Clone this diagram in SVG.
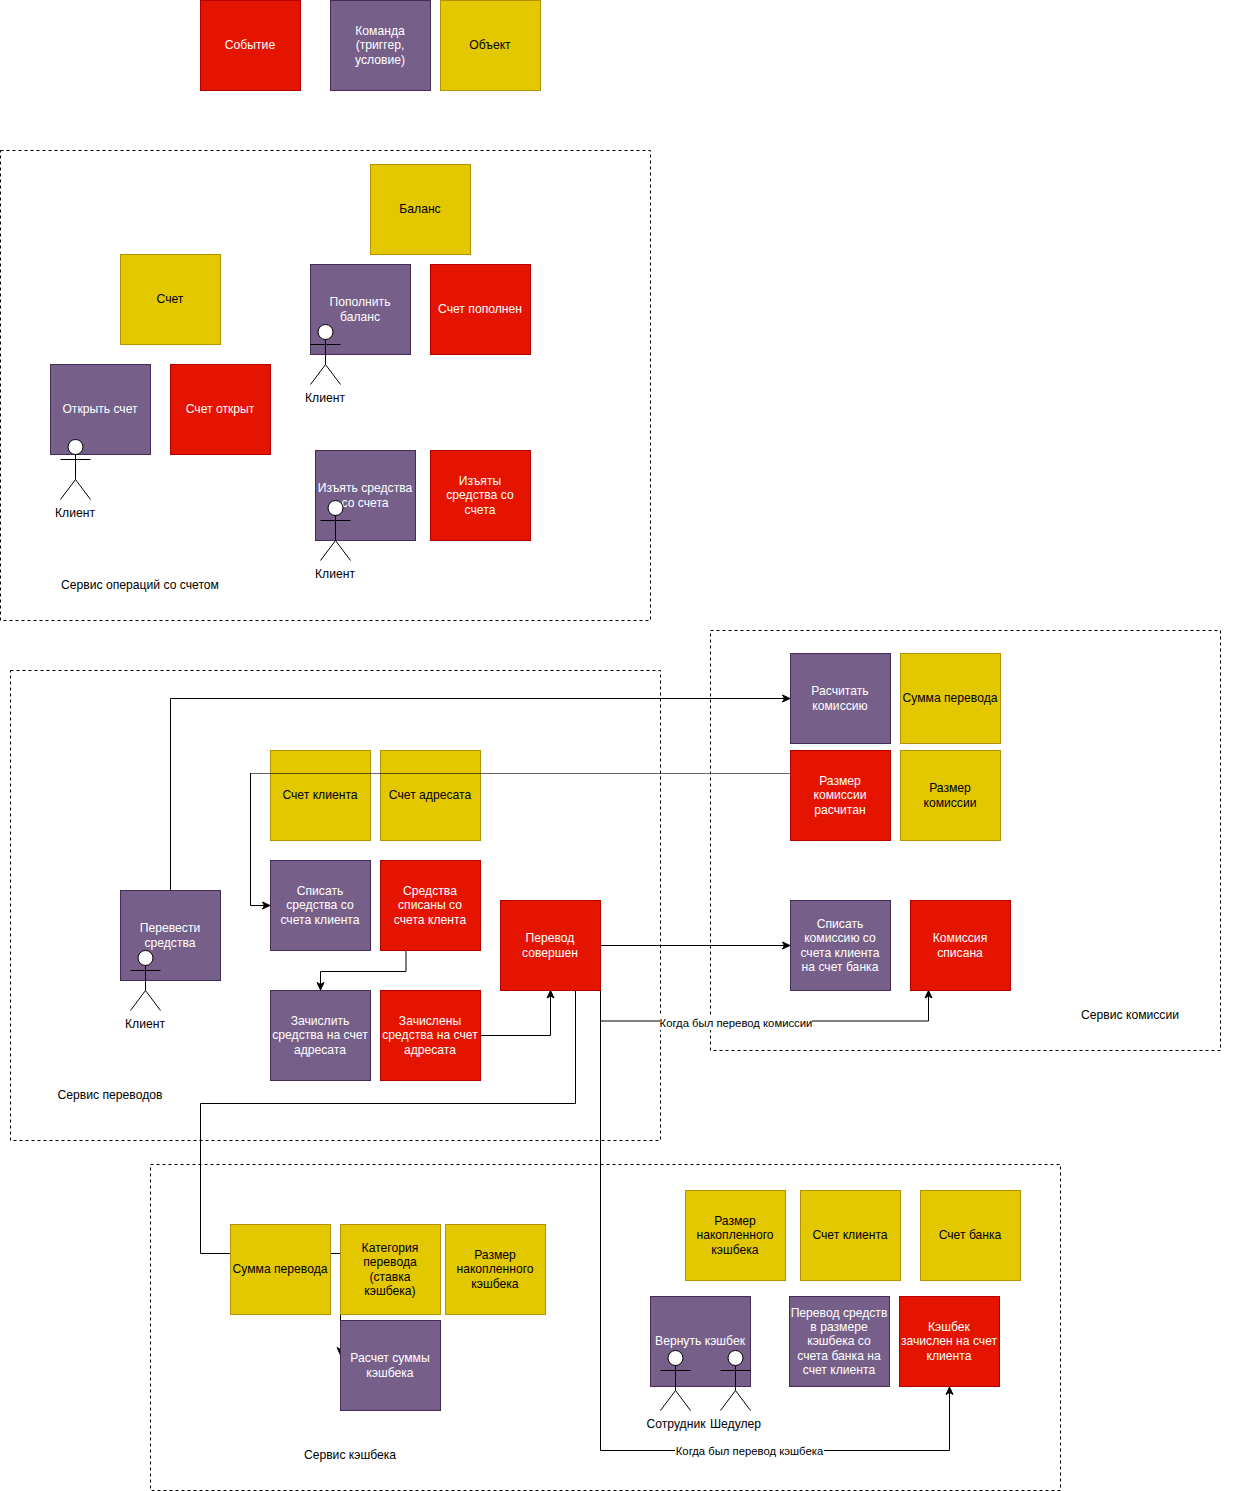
<svg xmlns="http://www.w3.org/2000/svg" width="1241" height="1491" viewBox="0 0 1241 1491">
<style>
text{font-family:"Liberation Sans",Arial,sans-serif;font-size:12.15px;text-anchor:middle;fill:#000;stroke:none}
.ev{fill:#e51400;stroke:#b20000}
.cmd{fill:#76608a;stroke:#432d57}
.obj{fill:#e3c800;stroke:#b09500}
.ev text,.cmd text{fill:#fff}
.frame{fill:none;stroke:#000;stroke-dasharray:3 3}
.c{fill:none;stroke:#000}
.a{marker-end:url(#arrow)}
.actor{fill:#fff;stroke:#000}
.edge{font-size:11.3px}
</style>
<defs>
<marker id="arrow" markerUnits="userSpaceOnUse" markerWidth="10" markerHeight="10" viewBox="-8 -5 10 10" refX="0" refY="0" orient="auto"><path d="M-7.5 -3.5L0 0L-7.5 3.5L-5.5 0Z" fill="#000" stroke="#000"/></marker>
<rect id="b" width="100" height="90"/>
<g id="fig"><circle cx="15" cy="7.5" r="7.5"/><path fill="none" d="M15 15V40M0 20H30M0 60L15 40L30 60"/></g>
</defs>
<rect width="1241" height="1491" fill="#fff"/>

<g id="frames">
<rect class="frame" x="0.5" y="150.5" width="650" height="470"/>
<rect class="frame" x="10.5" y="670.5" width="650" height="470"/>
<rect class="frame" x="710.5" y="630.5" width="510" height="420"/>
<rect class="frame" x="150.5" y="1164.5" width="910" height="326"/>
</g>

<g id="n-schet-klienta" class="obj"><use href="#b" x="270.5" y="750.5"/><text x="320" y="799">Счет клиента</text></g>
<g id="n-schet-adresata" class="obj"><use href="#b" x="380.5" y="750.5"/><text x="430" y="799">Счет адресата</text></g>

<g id="connectors">
<path class="c a" d="M170.5 890V698.5H790"/>
<path class="c" d="M790 773.5H250.5" stroke-opacity="0.6"/>
<path class="c a" d="M250.5 773V905.5H270"/>
<path class="c a" d="M406 950V971.5H320.5V990"/>
<path class="c a" d="M480 1035.5H550.5V990.5"/>
<path class="c a" d="M600 945.5H790"/>
<path class="c a" d="M600.5 1021H928.5V990.5"/>
<path class="c a" d="M575.5 990V1103.5H200.5V1253.5H340.5V1355"/>
<path class="c a" d="M600.5 990V1450.5H949.5V1387"/>
<rect x="660" y="1016" width="152" height="14" fill="#fff"/>
<text class="edge" x="736" y="1027">Когда был перевод комиссии</text>
<rect x="675" y="1444" width="149" height="14" fill="#fff"/>
<text class="edge" x="749.5" y="1455">Когда был перевод кэшбека</text>
</g>

<g id="n-sobytie" class="ev"><use href="#b" x="200.5" y="0.5"/><text x="250" y="49">Событие</text></g>
<g id="n-komanda" class="cmd"><use href="#b" x="330.5" y="0.5"/><text x="380" y="35">Команда</text><text x="380" y="49">(триггер,</text><text x="380" y="64">условие)</text></g>
<g id="n-obekt" class="obj"><use href="#b" x="440.5" y="0.5"/><text x="490" y="49">Объект</text></g>

<g id="n-balans" class="obj"><use href="#b" x="370.5" y="164.5"/><text x="420" y="213">Баланс</text></g>
<g id="n-schet" class="obj"><use href="#b" x="120.5" y="254.5"/><text x="170" y="303">Счет</text></g>
<g id="n-popolnit" class="cmd"><use href="#b" x="310.5" y="264.5"/><text x="360" y="306">Пополнить</text><text x="360" y="321">баланс</text></g>
<g id="n-popolnen" class="ev"><use href="#b" x="430.5" y="264.5"/><text x="480" y="313">Счет пополнен</text></g>
<g id="n-otkryt" class="cmd"><use href="#b" x="50.5" y="364.5"/><text x="100" y="413">Открыть счет</text></g>
<g id="n-otkryt-ev" class="ev"><use href="#b" x="170.5" y="364.5"/><text x="220" y="413">Счет открыт</text></g>
<g id="n-izyat" class="cmd"><use href="#b" x="315.5" y="450.5"/><text x="365" y="492">Изъять средства</text><text x="365" y="507">со счета</text></g>
<g id="n-izyaty" class="ev"><use href="#b" x="430.5" y="450.5"/><text x="480" y="485">Изъяты</text><text x="480" y="499">средства со</text><text x="480" y="514">счета</text></g>

<g id="a-klient-1" class="actor"><use href="#fig" x="60.5" y="439.5"/><text x="75" y="517">Клиент</text></g>
<g id="a-klient-2" class="actor"><use href="#fig" x="310.5" y="324.5"/><text x="325" y="402">Клиент</text></g>
<g id="a-klient-3" class="actor"><use href="#fig" x="320.5" y="500.5"/><text x="335" y="578">Клиент</text></g>

<g id="n-raschitat" class="cmd"><use href="#b" x="790.5" y="653.5"/><text x="840" y="695">Расчитать</text><text x="840" y="710">комиссию</text></g>
<g id="n-summa-1" class="obj"><use href="#b" x="900.5" y="653.5"/><text x="950" y="702">Сумма перевода</text></g>
<g id="n-razmer-ev" class="ev"><use href="#b" x="790.5" y="750.5"/><text x="840" y="785">Размер</text><text x="840" y="799">комиссии</text><text x="840" y="814">расчитан</text></g>
<g id="n-razmer" class="obj"><use href="#b" x="900.5" y="750.5"/><text x="950" y="792">Размер</text><text x="950" y="807">комиссии</text></g>

<g id="n-spisat" class="cmd"><use href="#b" x="270.5" y="860.5"/><text x="320" y="895">Списать</text><text x="320" y="909">средства со</text><text x="320" y="924">счета клиента</text></g>
<g id="n-spisany" class="ev"><use href="#b" x="380.5" y="860.5"/><text x="430" y="895">Средства</text><text x="430" y="909">списаны со</text><text x="430" y="924">счета клента</text></g>
<g id="n-perevesti" class="cmd"><use href="#b" x="120.5" y="890.5"/><text x="170" y="932">Перевести</text><text x="170" y="947">средства</text></g>
<g id="n-soversh" class="ev"><use href="#b" x="500.5" y="900.5"/><text x="550" y="942">Перевод</text><text x="550" y="957">совершен</text></g>
<g id="n-zachislit" class="cmd"><use href="#b" x="270.5" y="990.5"/><text x="320" y="1025">Зачислить</text><text x="320" y="1039">средства на счет</text><text x="320" y="1054">адресата</text></g>
<g id="n-zachisleny" class="ev"><use href="#b" x="380.5" y="990.5"/><text x="430" y="1025">Зачислены</text><text x="430" y="1039">средства на счет</text><text x="430" y="1054">адресата</text></g>
<g id="a-klient-4" class="actor"><use href="#fig" x="130.5" y="950.5"/><text x="145" y="1028">Клиент</text></g>

<g id="n-spisat-kom" class="cmd"><use href="#b" x="790.5" y="900.5"/><text x="840" y="928">Списать</text><text x="840" y="942">комиссию со</text><text x="840" y="957">счета клиента</text><text x="840" y="971">на счет банка</text></g>
<g id="n-kom-spisana" class="ev"><use href="#b" x="910.5" y="900.5"/><text x="960" y="942">Комиссия</text><text x="960" y="957">списана</text></g>

<g id="n-summa-2" class="obj"><use href="#b" x="230.5" y="1224.5"/><text x="280" y="1273">Сумма перевода</text></g>
<g id="n-kategoria" class="obj"><use href="#b" x="340.5" y="1224.5"/><text x="390" y="1252">Категория</text><text x="390" y="1266">перевода</text><text x="390" y="1281">(ставка</text><text x="390" y="1295">кэшбека)</text></g>
<g id="n-razmer-kb-1" class="obj"><use href="#b" x="445.5" y="1224.5"/><text x="495" y="1259">Размер</text><text x="495" y="1273">накопленного</text><text x="495" y="1288">кэшбека</text></g>
<g id="n-raschet" class="cmd"><use href="#b" x="340.5" y="1320.5"/><text x="390" y="1362">Расчет суммы</text><text x="390" y="1377">кэшбека</text></g>

<g id="n-razmer-kb-2" class="obj"><use href="#b" x="685.5" y="1190.5"/><text x="735" y="1225">Размер</text><text x="735" y="1239">накопленного</text><text x="735" y="1254">кэшбека</text></g>
<g id="n-schet-kl-2" class="obj"><use href="#b" x="800.5" y="1190.5"/><text x="850" y="1239">Счет клиента</text></g>
<g id="n-schet-bank" class="obj"><use href="#b" x="920.5" y="1190.5"/><text x="970" y="1239">Счет банка</text></g>
<g id="n-vernut" class="cmd"><use href="#b" x="650.5" y="1296.5"/><text x="700" y="1345">Вернуть кэшбек</text></g>
<g id="n-perevod-sr" class="cmd"><use href="#b" x="789.5" y="1296.5"/><text x="839" y="1317">Перевод средств</text><text x="839" y="1331">в размере</text><text x="839" y="1345">кэшбека со</text><text x="839" y="1360">счета банка на</text><text x="839" y="1374">счет клиента</text></g>
<g id="n-kb-zachislen" class="ev"><use href="#b" x="899.5" y="1296.5"/><text x="949" y="1331">Кэшбек</text><text x="949" y="1345">зачислен на счет</text><text x="949" y="1360">клиента</text></g>
<g id="a-sotrudnik" class="actor"><use href="#fig" x="660.5" y="1350.5"/><text x="676" y="1428">Сотрудник</text></g>
<g id="a-sheduler" class="actor"><use href="#fig" x="720.5" y="1350.5"/><text x="735.5" y="1428">Шедулер</text></g>

<g id="labels">
<text x="140" y="589">Сервис операций со счетом</text>
<text x="110" y="1099">Сервис переводов</text>
<text x="1130" y="1019">Сервис комиссии</text>
<text x="350" y="1459">Сервис кэшбека</text>
</g>
</svg>
